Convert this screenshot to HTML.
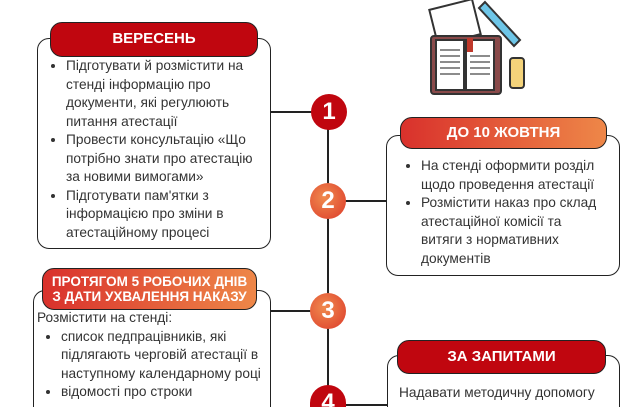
<!DOCTYPE html>
<html><head><meta charset="utf-8"><style>
html,body{margin:0;width:631px;height:407px;overflow:hidden}
body{background:#fff;position:relative;font-family:"Liberation Sans","DejaVu Sans",sans-serif;color:#333}
.box{position:absolute;border:1.5px solid #222;border-radius:12px;background:#fff;box-sizing:border-box}
.open{border-bottom:none;border-bottom-left-radius:0;border-bottom-right-radius:0}
.hd{position:absolute;border:1.5px solid #222;border-radius:12px;color:#fff;font-weight:bold;text-align:center;box-sizing:border-box;font-size:15px}
.red{background:#c0060f}
.grad{background:linear-gradient(90deg,#d9312c,#ee8748)}
.txt{position:absolute;font-size:13.7px;line-height:18.5px;color:#333;white-space:nowrap}
ul{margin:0;padding-left:26px}
.ln{position:absolute;background:#222}
.c{position:absolute;width:36px;height:36px;border-radius:50%;color:#fff;font-weight:bold;font-size:24px;text-align:center;line-height:36px}
</style></head><body>
<div class="ln" style="left:327px;top:112px;width:2px;height:295px"></div>
<div class="ln" style="left:270px;top:111px;width:58px;height:2px"></div>
<div class="ln" style="left:328px;top:200px;width:60px;height:2px"></div>
<div class="ln" style="left:270px;top:310px;width:58px;height:2px"></div>
<div class="ln" style="left:328px;top:404px;width:60px;height:2px"></div>

<div class="box" style="left:37px;top:38px;width:234px;height:211px"></div>
<div class="hd red" style="left:50px;top:22px;width:208px;height:35px;line-height:32px">ВЕРЕСЕНЬ</div>
<div class="txt" style="left:40px;top:57px"><ul>
<li>Підготувати й розмістити на<br>стенді інформацію про<br>документи, які регулюють<br>питання атестації</li>
<li>Провести консультацію «Що<br>потрібно знати про атестацію<br>за новими вимогами»</li>
<li>Підготувати пам'ятки з<br>інформацією про зміни в<br>атестаційному процесі</li></ul></div>

<div class="box" style="left:386px;top:135px;width:234px;height:141px"></div>
<div class="hd grad" style="left:400px;top:117px;width:207px;height:32px;line-height:30px">ДО 10 ЖОВТНЯ</div>
<div class="txt" style="left:395px;top:157px"><ul>
<li>На стенді оформити розділ<br>щодо проведення атестації</li>
<li>Розмістити наказ про склад<br>атестаційної комісії та<br>витяги з нормативних<br>документів</li></ul></div>

<div class="box open" style="left:33px;top:290px;width:238px;height:117px"></div>
<div class="hd grad" style="left:42px;top:268px;width:215px;height:42px;line-height:15px;font-size:13.5px;padding-top:5px">ПРОТЯГОМ 5 РОБОЧИХ ДНІВ<br>З ДАТИ УХВАЛЕННЯ НАКАЗУ</div>
<div class="txt" style="left:37px;top:309px">Розмістити на стенді:<ul style="padding-left:24px">
<li>список педпрацівників, які<br>підлягають черговій атестації в<br>наступному календарному році</li>
<li>відомості про строки</li></ul></div>

<div class="box open" style="left:387px;top:355px;width:233px;height:52px"></div>
<div class="hd red" style="left:397px;top:340px;width:209px;height:34px;line-height:31px">ЗА ЗАПИТАМИ</div>
<div class="txt" style="left:399px;top:384px">Надавати методичну допомогу</div>

<div class="c" style="left:311px;top:94px;background:#c0060f">1</div>
<div class="c" style="left:310px;top:183px;background:radial-gradient(circle at 40% 40%,#f08a4e,#dc3a2a)">2</div>
<div class="c" style="left:310px;top:293px;background:radial-gradient(circle at 40% 40%,#f08a4e,#dc3a2a)">3</div>
<div class="c" style="left:310px;top:385px;height:22px;border-radius:18px 18px 0 0;overflow:hidden;background:#c0060f">4</div>

<svg style="position:absolute;left:425px;top:0" width="110" height="100" viewBox="0 0 110 100">
<g stroke="#333" stroke-width="2">
<rect x="8" y="4" width="44" height="36" fill="#fff" transform="rotate(-14 30 22)"/>
<rect x="6" y="36" width="70" height="58" rx="3" fill="#8a4a4a"/>
<rect x="11" y="40" width="28" height="50" fill="#fff"/>
<rect x="41" y="40" width="28" height="50" fill="#fff"/>
<path d="M60 2 L95 40 L89 46 L54 8 Z" fill="#6ec6e8"/>
<rect x="85" y="58" width="14" height="30" rx="3" fill="#f4d37a"/>
</g>
<rect x="42" y="38" width="6" height="14" fill="#c0392b"/>
<g stroke="#666" stroke-width="1.5"><line x1="15" y1="50" x2="35" y2="50"/><line x1="15" y1="56" x2="35" y2="56"/><line x1="15" y1="62" x2="35" y2="62"/><line x1="15" y1="68" x2="35" y2="68"/><line x1="15" y1="74" x2="35" y2="74"/><line x1="45" y1="56" x2="65" y2="56"/><line x1="45" y1="62" x2="65" y2="62"/><line x1="45" y1="68" x2="65" y2="68"/><line x1="45" y1="74" x2="65" y2="74"/></g>
</svg>
</body></html>
